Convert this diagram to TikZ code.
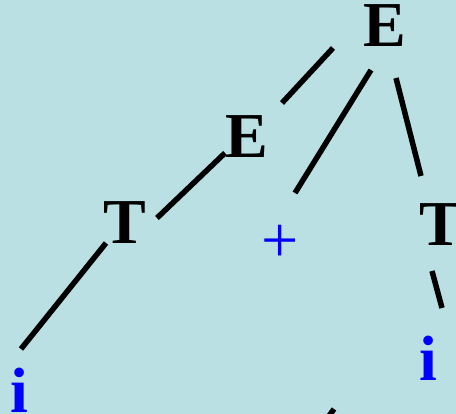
\documentclass[tikz,border=0pt]{standalone}
\usepackage{fontspec}
\setmainfont{Liberation Serif}
\usepackage{xcolor}
\definecolor{slidebg}{RGB}{186,224,227}
\usetikzlibrary{positioning}

\begin{document}
\begin{tikzpicture}[x=1pt,y=-1pt,
    nonterm/.style={inner sep=0pt,font=\fontsize{64}{64}\selectfont\bfseries},
    term/.style={inner sep=0pt,text=blue,font=\fontsize{64}{64}\selectfont\bfseries},
    sym/.style={inner sep=0pt,text=blue,font=\fontsize{66}{66}\selectfont},
    edge/.style={line width=5.5pt}]
  % Background
  \fill[slidebg] (0,0) rectangle (456,414);
  \useasboundingbox (0,0) rectangle (456,414);
  \clip (0,0) rectangle (456,414);

  % Nodes
  \node[nonterm] (E1) at (385,26) {E};
  \node[nonterm] (E2) at (247,137) {E};
  \node[nonterm] (T1) at (125,223) {T};
  \node[sym] (plus) at (280.5,244) {+};
  \node[nonterm] (T2) at (441,225) {T};
  \node[term] (i1) at (19,390) {i};
  \node[term] (i2) at (428,358) {i};
  \coordinate (cut) at (334,409);

  % Edges
  \draw[edge] ([shift={(-52,22)}]E1.center) -- ([shift={(35,-34)}]E2.center);
  \draw[edge] ([shift={(-14,44)}]E1.center) -- ([shift={(14.5,-51)}]plus.center);
  \draw[edge] ([shift={(11,52)}]E1.center) -- ([shift={(-20,-49)}]T2.center);
  \draw[edge] ([shift={(-22,16)}]E2.center) -- ([shift={(32,-5)}]T1.center);
  \draw[edge] ([shift={(-19,20)}]T1.center) -- ([shift={(2,-41)}]i1.center);
  \draw[edge] ([shift={(-9,46)}]T2.center) -- ([shift={(14,-50)}]i2.center);
  \draw[edge] (cut) -- +(-25,35);
\end{tikzpicture}
\end{document}
